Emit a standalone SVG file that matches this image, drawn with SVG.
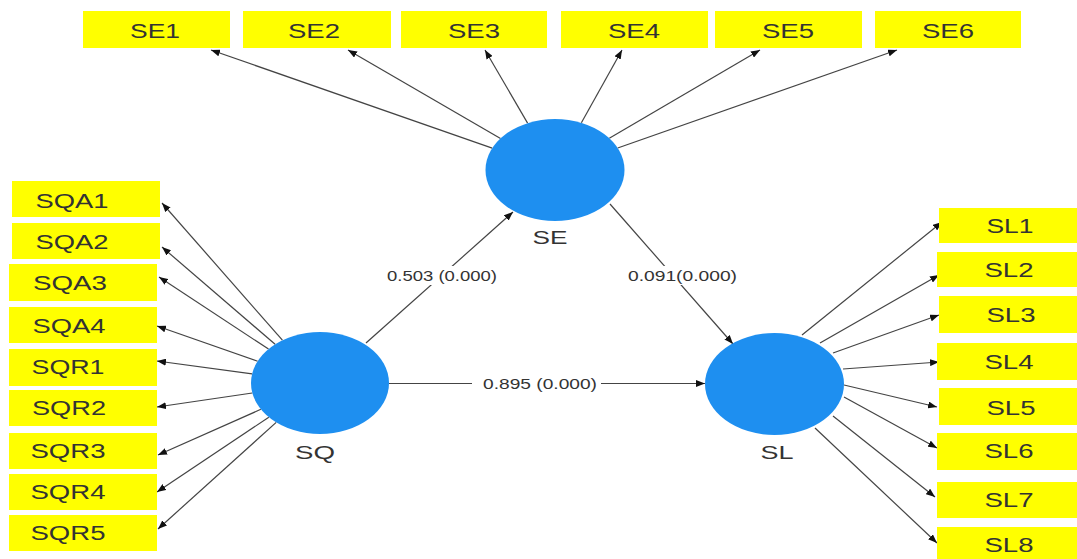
<svg xmlns="http://www.w3.org/2000/svg" width="1077" height="559" viewBox="0 0 1077 559">
<defs>
<marker id="ah" viewBox="0 0 9 7" refX="9" refY="3.5" markerWidth="9" markerHeight="7" markerUnits="userSpaceOnUse" orient="auto">
<path d="M0,0 L9,3.5 L0,7 z" fill="#111"/>
</marker>
</defs>
<style>
.box{fill:#FFFF00;}
.bt{font-family:"Liberation Sans",Arial,sans-serif;font-size:20px;fill:#333;text-anchor:middle;}
.lv{fill:#1E8FF0;}
.lt{font-family:"Liberation Sans",Arial,sans-serif;font-size:19px;fill:#333;text-anchor:middle;}
.c{stroke:#444;stroke-width:1.2;fill:none;marker-end:url(#ah);}
.cn{stroke:#444;stroke-width:1.2;fill:none;}
.pl{font-family:"Liberation Sans",Arial,sans-serif;font-size:14px;fill:#333;text-anchor:middle;}
</style>
<rect width="1077" height="559" fill="#fff"/>
<g id="connectors">
<line class="c" x1="492.2" y1="148.1" x2="211" y2="50"/>
<line class="c" x1="500.5" y1="138.4" x2="348" y2="50"/>
<line class="c" x1="527.6" y1="123.1" x2="485" y2="50"/>
<line class="c" x1="581.4" y1="122.8" x2="622" y2="50"/>
<line class="c" x1="609.3" y1="138.2" x2="760" y2="50"/>
<line class="c" x1="617.7" y1="148" x2="897" y2="50"/>
<line class="c" x1="282.4" y1="340.2" x2="162" y2="203"/>
<line class="c" x1="275.1" y1="344.3" x2="162" y2="247"/>
<line class="c" x1="268.5" y1="349.1" x2="159" y2="277"/>
<line class="c" x1="257.6" y1="361.2" x2="157" y2="326"/>
<line class="c" x1="252.1" y1="373.8" x2="157" y2="361"/>
<line class="c" x1="252.3" y1="393" x2="157" y2="407"/>
<line class="c" x1="260.9" y1="409.3" x2="158" y2="455"/>
<line class="c" x1="268.8" y1="417.2" x2="157" y2="492"/>
<line class="c" x1="276.2" y1="422.4" x2="158" y2="529"/>
<line class="c" x1="802" y1="335" x2="942" y2="222"/>
<line class="c" x1="820" y1="343" x2="939" y2="275"/>
<line class="c" x1="833" y1="353" x2="939" y2="315"/>
<line class="c" x1="843" y1="369" x2="939" y2="362"/>
<line class="c" x1="844" y1="385" x2="937" y2="407"/>
<line class="c" x1="844" y1="397" x2="937" y2="448"/>
<line class="c" x1="833" y1="416" x2="935" y2="497"/>
<line class="c" x1="815" y1="428" x2="937" y2="543"/>
<line class="c" x1="366" y1="343" x2="513" y2="212"/>
<line class="c" x1="610" y1="204" x2="733" y2="344"/>
<line class="c" x1="389" y1="383.5" x2="705" y2="383.5"/>
<rect x="384" y="266" width="117" height="19" fill="#fff"/>
<text class="pl" x="442" y="281" textLength="110" lengthAdjust="spacingAndGlyphs">0.503 (0.000)</text>
<rect x="625" y="266" width="116" height="19" fill="#fff"/>
<text class="pl" x="682.5" y="281" textLength="109" lengthAdjust="spacingAndGlyphs">0.091(0.000)</text>
<rect x="472" y="374" width="129" height="19" fill="#fff"/>
<text class="pl" x="540" y="389" textLength="114" lengthAdjust="spacingAndGlyphs">0.895 (0.000)</text>
</g>
<g id="SE"><ellipse class="lv" cx="555" cy="170" rx="69.5" ry="51"/><text class="lt" x="550" y="244" textLength="35" lengthAdjust="spacingAndGlyphs">SE</text></g>
<g id="SQ"><ellipse class="lv" cx="320" cy="383" rx="69" ry="51"/><text class="lt" x="315" y="459" textLength="40" lengthAdjust="spacingAndGlyphs">SQ</text></g>
<g id="SL"><ellipse class="lv" cx="774.5" cy="384" rx="69.5" ry="51"/><text class="lt" x="777" y="459" textLength="33" lengthAdjust="spacingAndGlyphs">SL</text></g>
<g id="SE1"><rect class="box" x="83" y="11" width="147" height="37"/><text class="bt" x="155" y="37.5" textLength="50" lengthAdjust="spacingAndGlyphs">SE1</text></g>
<g id="SE2"><rect class="box" x="243" y="11" width="148" height="37"/><text class="bt" x="314" y="37.5" textLength="52" lengthAdjust="spacingAndGlyphs">SE2</text></g>
<g id="SE3"><rect class="box" x="401" y="11" width="146" height="37"/><text class="bt" x="474" y="37.5" textLength="52" lengthAdjust="spacingAndGlyphs">SE3</text></g>
<g id="SE4"><rect class="box" x="561" y="11" width="147" height="37"/><text class="bt" x="634" y="37.5" textLength="52" lengthAdjust="spacingAndGlyphs">SE4</text></g>
<g id="SE5"><rect class="box" x="715" y="11" width="147" height="37"/><text class="bt" x="788" y="37.5" textLength="52" lengthAdjust="spacingAndGlyphs">SE5</text></g>
<g id="SE6"><rect class="box" x="875" y="11" width="146" height="37"/><text class="bt" x="948" y="37.5" textLength="52" lengthAdjust="spacingAndGlyphs">SE6</text></g>
<g id="SQA1"><rect class="box" x="12" y="181" width="148" height="36"/><text class="bt" x="72" y="208" textLength="73" lengthAdjust="spacingAndGlyphs">SQA1</text></g>
<g id="SQA2"><rect class="box" x="12" y="223" width="148" height="36"/><text class="bt" x="72" y="249" textLength="73" lengthAdjust="spacingAndGlyphs">SQA2</text></g>
<g id="SQA3"><rect class="box" x="9" y="264" width="148" height="37"/><text class="bt" x="70" y="290" textLength="74" lengthAdjust="spacingAndGlyphs">SQA3</text></g>
<g id="SQA4"><rect class="box" x="9" y="307" width="148" height="36"/><text class="bt" x="69" y="333" textLength="73" lengthAdjust="spacingAndGlyphs">SQA4</text></g>
<g id="SQR1"><rect class="box" x="9" y="349" width="148" height="37"/><text class="bt" x="68" y="374" textLength="73" lengthAdjust="spacingAndGlyphs">SQR1</text></g>
<g id="SQR2"><rect class="box" x="9" y="390" width="148" height="36"/><text class="bt" x="69" y="415" textLength="74" lengthAdjust="spacingAndGlyphs">SQR2</text></g>
<g id="SQR3"><rect class="box" x="9" y="433" width="148" height="36"/><text class="bt" x="68" y="458" textLength="75" lengthAdjust="spacingAndGlyphs">SQR3</text></g>
<g id="SQR4"><rect class="box" x="9" y="474" width="148" height="36"/><text class="bt" x="68" y="499" textLength="75" lengthAdjust="spacingAndGlyphs">SQR4</text></g>
<g id="SQR5"><rect class="box" x="9" y="515" width="148" height="36"/><text class="bt" x="68" y="540" textLength="75" lengthAdjust="spacingAndGlyphs">SQR5</text></g>
<g id="SL1"><rect class="box" x="939" y="208" width="145" height="35"/><text class="bt" x="1010" y="233" textLength="47" lengthAdjust="spacingAndGlyphs">SL1</text></g>
<g id="SL2"><rect class="box" x="937" y="252" width="147" height="35"/><text class="bt" x="1009" y="277" textLength="49" lengthAdjust="spacingAndGlyphs">SL2</text></g>
<g id="SL3"><rect class="box" x="939" y="296" width="145" height="37"/><text class="bt" x="1011" y="322" textLength="49" lengthAdjust="spacingAndGlyphs">SL3</text></g>
<g id="SL4"><rect class="box" x="937" y="343" width="147" height="37"/><text class="bt" x="1009" y="369" textLength="49" lengthAdjust="spacingAndGlyphs">SL4</text></g>
<g id="SL5"><rect class="box" x="939" y="388" width="145" height="37"/><text class="bt" x="1011" y="415" textLength="49" lengthAdjust="spacingAndGlyphs">SL5</text></g>
<g id="SL6"><rect class="box" x="937" y="433" width="147" height="37"/><text class="bt" x="1009" y="458" textLength="49" lengthAdjust="spacingAndGlyphs">SL6</text></g>
<g id="SL7"><rect class="box" x="937" y="482" width="147" height="36"/><text class="bt" x="1009" y="507" textLength="49" lengthAdjust="spacingAndGlyphs">SL7</text></g>
<g id="SL8"><rect class="box" x="937" y="527" width="147" height="36"/><text class="bt" x="1009" y="552" textLength="49" lengthAdjust="spacingAndGlyphs">SL8</text></g>
</svg>
